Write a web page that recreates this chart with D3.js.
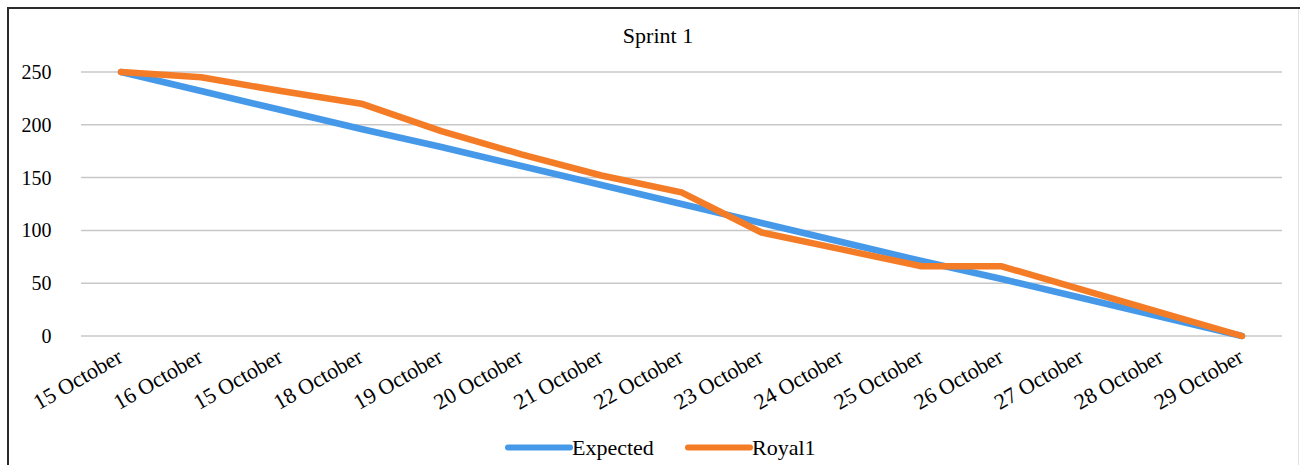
<!DOCTYPE html>
<html>
<head>
<meta charset="utf-8">
<script src="https://cdn.jsdelivr.net/npm/d3@7"></script>
<style>
  html, body { margin: 0; padding: 0; background: #fff; }
  svg { display: block; }
  text { font-family: "Liberation Serif", "Times New Roman", serif; fill: #000; }
</style>
</head>
<body>
<svg id="chart" width="1302" height="465"></svg>
<script>
// Sprint burndown data
const categories = ["15 October", "16 October", "15 October", "18 October", "19 October",
  "20 October", "21 October", "22 October", "23 October", "24 October", "25 October",
  "26 October", "27 October", "28 October", "29 October"];
const expected = [250, 232, 214, 196, 179, 161, 143, 125, 107, 89, 71, 54, 36, 18, 0];
const royal1 = [250, 245, 232, 220, 194, 172, 152, 136, 98, 82, 66, 66, 44, 22, 0];
const yTicks = [0, 50, 100, 150, 200, 250];
const seriesNames = ["Expected", "Royal1"];
const seriesColors = ["#4599e8", "#f57c26"];

const svg = d3.select("#chart");
const W = 1302, H = 465;

svg.append("rect").attr("width", W).attr("height", H).attr("fill", "#fff");

// chart frame
svg.append("line").attr("x1", 7).attr("x2", 1300).attr("y1", 8).attr("y2", 8)
  .attr("stroke", "#2b2b2b").attr("stroke-width", 2);
svg.append("line").attr("x1", 8).attr("x2", 8).attr("y1", 7).attr("y2", H)
  .attr("stroke", "#2b2b2b").attr("stroke-width", 2);
svg.append("line").attr("x1", 1298.5).attr("x2", 1298.5).attr("y1", 9).attr("y2", H)
  .attr("stroke", "#e2e2e2").attr("stroke-width", 1);

const x = d3.scaleBand().domain(d3.range(categories.length)).range([81, 1282]).padding(0);
const cx = i => x(i) + x.bandwidth() / 2;
const y = d3.scaleLinear().domain([0, 250]).range([336, 72]);

// title
svg.append("text").attr("x", 658).attr("y", 43).attr("text-anchor", "middle")
  .style("font-size", "22px").text("Sprint 1");

// horizontal gridlines
svg.append("g").selectAll("line").data(yTicks).join("line")
  .attr("x1", 81).attr("x2", 1282)
  .attr("y1", d => y(d)).attr("y2", d => y(d))
  .attr("stroke", "#c8c8c8").attr("stroke-width", 1.5);

// y axis labels
svg.append("g").selectAll("text").data(yTicks).join("text")
  .attr("x", 51.5).attr("y", d => y(d) + 7)
  .attr("text-anchor", "end").style("font-size", "20px")
  .text(d => d);

// x axis labels, rotated
svg.append("g").selectAll("text").data(categories).join("text")
  .attr("text-anchor", "end")
  .attr("transform", (d, i) => `translate(${cx(i) + 3},${361}) rotate(-30)`)
  .style("font-size", "22px")
  .text(d => d);

// series lines
const line = d3.line().x((d, i) => cx(i)).y(d => y(d));
[expected, royal1].forEach((vals, k) => {
  svg.append("path").datum(vals)
    .attr("d", line)
    .attr("fill", "none")
    .attr("stroke", seriesColors[k])
    .attr("stroke-width", 6.5)
    .attr("stroke-linejoin", "round")
    .attr("stroke-linecap", "round");
});

// legend
const legendItems = [{x0: 508, x1: 570}, {x0: 688, x1: 750}];
legendItems.forEach((p, k) => {
  svg.append("line").attr("x1", p.x0).attr("x2", p.x1).attr("y1", 447.5).attr("y2", 447.5)
    .attr("stroke", seriesColors[k]).attr("stroke-width", 6).attr("stroke-linecap", "round");
  svg.append("text").attr("x", p.x1 + 2).attr("y", 455)
    .style("font-size", "22px").text(seriesNames[k]);
});
</script>
</body>
</html>
